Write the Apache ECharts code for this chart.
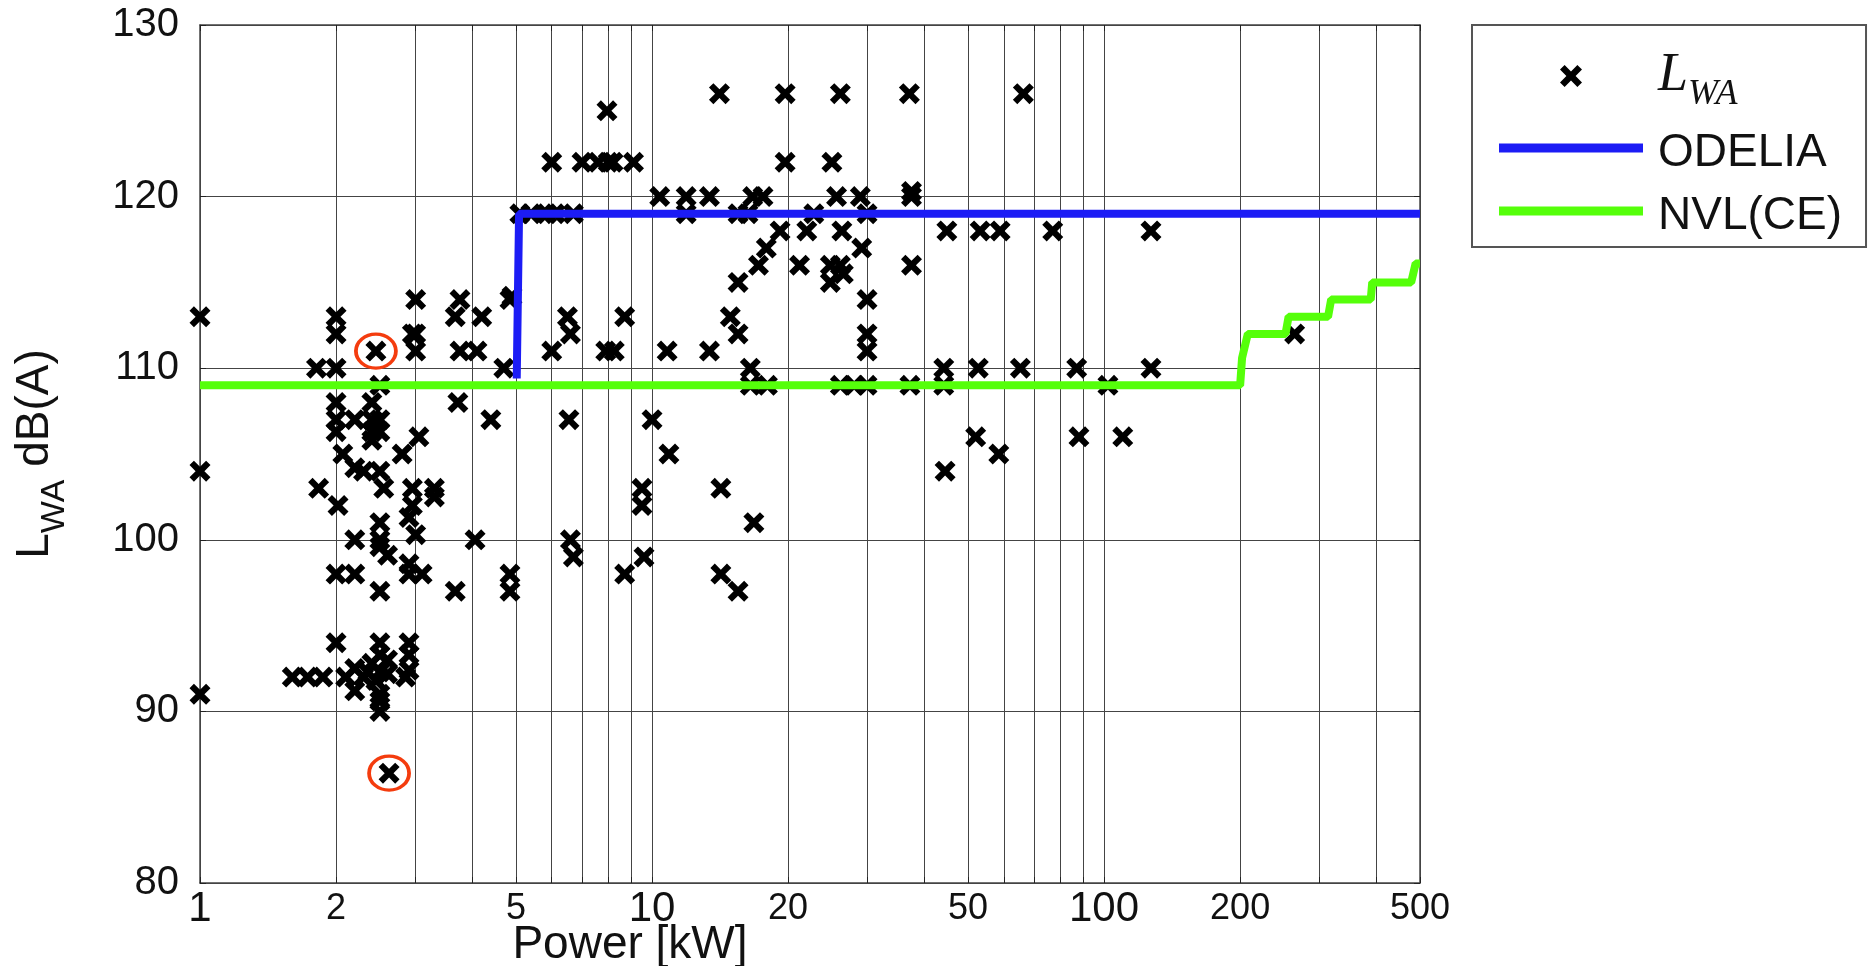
<!DOCTYPE html>
<html>
<head>
<meta charset="utf-8">
<title>LWA vs power</title>
<script src="https://cdn.jsdelivr.net/npm/echarts@6/dist/echarts.min.js"></script>
<style>
  html, body { margin: 0; padding: 0; background: #fff; }
  #chart { width: 1870px; height: 966px; }
</style>
</head>
<body>
<div id="chart"></div>
<script>
// measured machines: power [kW] and sound power level LWA [dB(A)]
const powerKW = [
  1, 1, 1, 1.81, 2.0, 1.83, 1.6, 1.73, 1.87,
  2, 2, 2, 2, 2, 2.07, 2.02, 2.0, 2.0, 2.1,
  2.2, 2.4, 2.4, 2.5, 2.4, 2.5, 2.4, 2.5, 2.2, 2.3, 2.5, 2.55, 2.5, 2.2, 2.5, 2.5, 2.6, 2.2, 2.5,
  2.5, 2.5, 2.2, 2.3, 2.4, 2.5, 2.6, 2.6, 2.2, 2.5, 2.5, 2.5, 2.45, 2.62, 2.35, 2.45,
  3.0, 2.95, 3.0, 3.0, 3.05, 2.8, 2.95, 3.3, 2.95, 3.3, 2.9, 3.0, 2.9, 2.9, 3.1, 2.9, 2.9, 2.9, 2.85,
  3.76, 3.67, 4.2, 3.76, 4.1, 4.85, 4.9, 4.7, 3.72, 4.4, 4.06, 3.67, 4.85, 4.85,
  5.1, 5.4, 5.85, 6.1, 6.7, 6.5, 6.6, 6.0, 8.7, 7.9, 8.25, 6.0, 7.0, 7.6, 8.0, 8.2, 9.1, 7.95,
  6.55, 6.6, 6.7, 8.7, 9.6, 9.5, 9.5, 10,
  10.8, 10.9, 10.4, 11.9, 13.4, 16.7, 17.6, 11.9, 15.5, 16.3, 14.1, 19.7, 19.7, 19.2, 17.9, 17.2,
  15.5, 14.9, 15.5, 13.4, 16.5, 16.5, 18.0, 14.2, 16.8, 14.2, 15.5,
  22.8, 29.9, 25.0, 25.6, 28.9, 37.5, 37.5, 22.0, 26.3, 29.1, 21.2, 24.8, 26.1, 24.8, 26.5, 29.9,
  29.9, 29.9, 26.1, 28.0, 29.9, 37.2, 37.5, 26.1, 37.1,
  44.2, 44.2, 52.7, 65.3, 87, 127, 102, 44.9, 53.2, 58.9, 77, 127, 66.3, 44.5, 52, 58.5, 88, 110, 264
];
const lwaDb = [
  113, 104, 91, 110, 110, 103, 92, 92, 92,
  113, 112, 108, 107, 106.3, 105, 102, 98, 94, 92,
  107, 108, 107, 107, 106.3, 106.3, 105.8, 109, 104.2, 104, 104, 103, 101, 100, 100, 99.6, 99.1, 98, 97,
  94, 93.3, 92.5, 92, 92.8, 92.3, 93, 92.2, 91.2, 91, 90.6, 90, 111, 86.4, 92.3, 91.8,
  114, 112, 112, 111, 106, 105, 103, 103, 102, 102.5, 101.3, 100.3, 98.6, 98, 98, 94, 93.3, 92.4, 92,
  114, 113, 113, 111, 111, 114, 114.2, 110, 108, 107, 100, 97, 98, 97,
  119, 119, 119, 119, 119, 113, 112, 111, 113, 111, 111, 122, 122, 122, 122, 122, 122, 125,
  107, 100, 99, 98, 99, 103, 102, 107,
  111, 105, 120, 120, 120, 120, 120, 119, 119, 119, 126, 126, 122, 118, 117, 116,
  115, 113, 112, 111, 110, 109, 109, 103, 101, 98, 97,
  119, 119, 122, 120, 120, 120, 120.3, 118, 118, 117, 116, 116, 116, 115, 115.5, 114,
  112, 111, 109, 109, 109, 109, 116, 126, 126,
  109, 110, 110, 110, 110, 110, 109, 118, 118, 118, 118, 118, 126, 104, 106, 105, 106, 106, 112
];
// the two points ringed in red
const circledKW = [2.45, 2.62];
const circledDb = [111, 86.4];
// ODELIA limit
const odeliaKW = [5.02, 5.08, 500];
const odeliaDb = [109.4, 119, 119];
// NVL(CE) limit
const nvlKW = [1, 200, 202, 208, 252, 256, 313, 318, 389, 392, 478, 489, 500];
const nvlDb = [109, 109, 110.6, 112, 112, 113, 113, 114, 114, 115, 115, 116.1, 116.1];
// axis ticks
const xGridValues = [1, 2, 3, 4, 5, 6, 7, 8, 9, 10, 20, 30, 40, 50, 60, 70, 80, 90, 100, 200, 300, 400, 500];
const xLabelValues = [1, 2, 5, 10, 20, 50, 100, 200, 500];
const xBigLabels = [1, 10, 100];
const yMin = 80, yMax = 130, yStep = 10;

const FONT = "'Liberation Sans', Arial, sans-serif";
const SERIF = "'Liberation Serif', 'DejaVu Serif', serif";
const xMark = 'path://M0,2.1 L2.1,0 L5,2.9 L7.9,0 L10,2.1 L7.1,5 L10,7.9 L7.9,10 L5,7.1 L2.1,10 L0,7.9 L2.9,5 Z';
// flat bar used as legend sample for the two limit lines
const barIcon = 'path://M0,0 L144,0 L144,9 L0,9 Z';

const pairs = (xs, ys) => xs.map((x, i) => [x, ys[i]]);

const chart = echarts.init(document.getElementById('chart'));

const frameAxis = {
  axisLine: { show: true, lineStyle: { color: '#444', width: 1.5 } },
  axisTick: { show: true, inside: true, length: 6, lineStyle: { color: '#222' } },
  axisLabel: { show: false },
  splitLine: { show: false }
};

const options = {
  backgroundColor: '#fff',
  animation: false,
  grid: { left: 200, top: 25, width: 1220, height: 858, containLabel: false, outerBoundsMode: 'none' },
  legend: {
    orient: 'vertical',
    left: 1472,
    top: 25,
    padding: [24, 24, 8, 27],
    itemWidth: 144,
    itemHeight: 22,
    itemGap: 17,
    borderColor: '#555',
    borderWidth: 2,
    backgroundColor: '#fff',
    symbolKeepAspect: true,
    data: [
      { name: 'LWA' },
      { name: 'ODELIA', icon: barIcon },
      { name: 'NVL(CE)', icon: barIcon }
    ],
    formatter: name => name === 'LWA' ? '{l|L}{s|WA}' : name,
    textStyle: {
      fontFamily: FONT,
      fontSize: 46,
      color: '#111',
      padding: [10, 0, 0, 10],
      rich: {
        l: { fontFamily: SERIF, fontStyle: 'italic', fontSize: 54, color: '#111', verticalAlign: 'bottom', padding: [0, 0, 10, 0] },
        s: { fontFamily: SERIF, fontStyle: 'italic', fontSize: 36, color: '#111', verticalAlign: 'bottom' }
      }
    }
  },
  xAxis: [
    {
      type: 'log',
      logBase: 10,
      min: 1,
      max: 500,
      position: 'bottom',
      name: 'Power [kW]',
      nameLocation: 'middle',
      nameGap: 39,
      nameMoveOverlap: false,
      nameTextStyle: { fontFamily: FONT, fontSize: 46, color: '#111', padding: [0, 360, 0, 0] },
      axisLine: { show: true, lineStyle: { color: '#444', width: 1.5 } },
      axisTick: { show: true, inside: true, length: 6, customValues: xGridValues, lineStyle: { color: '#222' } },
      splitLine: { show: true, lineStyle: { color: '#444', width: 1 } },
      minorTick: { show: false },
      axisLabel: {
        customValues: xLabelValues,
        margin: 5,
        formatter: v => {
          const r = Math.round(v);
          return xBigLabels.indexOf(r) >= 0 ? '{b|' + r + '}' : '{s|' + r + '}';
        },
        rich: {
          b: { fontFamily: FONT, fontSize: 42, color: '#111' },
          s: { fontFamily: FONT, fontSize: 36, color: '#111', padding: [3, 0, 0, 0] }
        }
      }
    },
    Object.assign({ type: 'log', logBase: 10, min: 1, max: 500, position: 'top' }, frameAxis,
      { axisTick: { show: true, inside: true, length: 6, customValues: xGridValues, lineStyle: { color: '#222' } } })
  ],
  yAxis: [
    {
      type: 'value',
      min: yMin,
      max: yMax,
      interval: yStep,
      position: 'left',
      name: '{l|L}{s|WA}{n| dB(A)}',
      nameLocation: 'middle',
      nameRotate: 90,
      nameGap: 128,
      nameMoveOverlap: false,
      nameTextStyle: {
        rich: {
          l: { fontFamily: FONT, fontSize: 46, color: '#111', verticalAlign: 'bottom', padding: [0, 0, 14, 0] },
          s: { fontFamily: FONT, fontSize: 34, color: '#111', verticalAlign: 'bottom' },
          n: { fontFamily: FONT, fontSize: 46, color: '#111', verticalAlign: 'bottom', padding: [0, 0, 14, 0] }
        }
      },
      axisLine: { show: true, lineStyle: { color: '#444', width: 1.5 } },
      axisTick: { show: true, inside: true, length: 6, lineStyle: { color: '#222' } },
      splitLine: { show: true, lineStyle: { color: '#444', width: 1 } },
      axisLabel: { fontFamily: FONT, fontSize: 40, color: '#111', margin: 21 }
    },
    Object.assign({ type: 'value', min: yMin, max: yMax, interval: yStep, position: 'right' }, frameAxis)
  ],
  series: [
    {
      name: 'LWA',
      type: 'scatter',
      z: 2,
      symbol: xMark,
      symbolSize: 21,
      itemStyle: { color: '#000', opacity: 1 },
      data: pairs(powerKW, lwaDb)
    },
    {
      name: 'ODELIA',
      type: 'line',
      z: 3,
      symbol: 'none',
      lineStyle: { color: '#1c1cf5', width: 8 },
      itemStyle: { color: '#1c1cf5' },
      data: pairs(odeliaKW, odeliaDb)
    },
    {
      name: 'NVL(CE)',
      type: 'line',
      z: 3,
      symbol: 'none',
      lineStyle: { color: '#55ff0a', width: 8 },
      itemStyle: { color: '#55ff0a' },
      data: pairs(nvlKW, nvlDb)
    },
    {
      name: 'circled',
      type: 'scatter',
      z: 4,
      symbol: 'circle',
      symbolSize: [40, 34],
      itemStyle: { color: 'rgba(0,0,0,0)', borderColor: '#f43c0e', borderWidth: 3.5, opacity: 1 },
      data: pairs(circledKW, circledDb)
    }
  ]
};

chart.setOption(options);
</script>
</body>
</html>
